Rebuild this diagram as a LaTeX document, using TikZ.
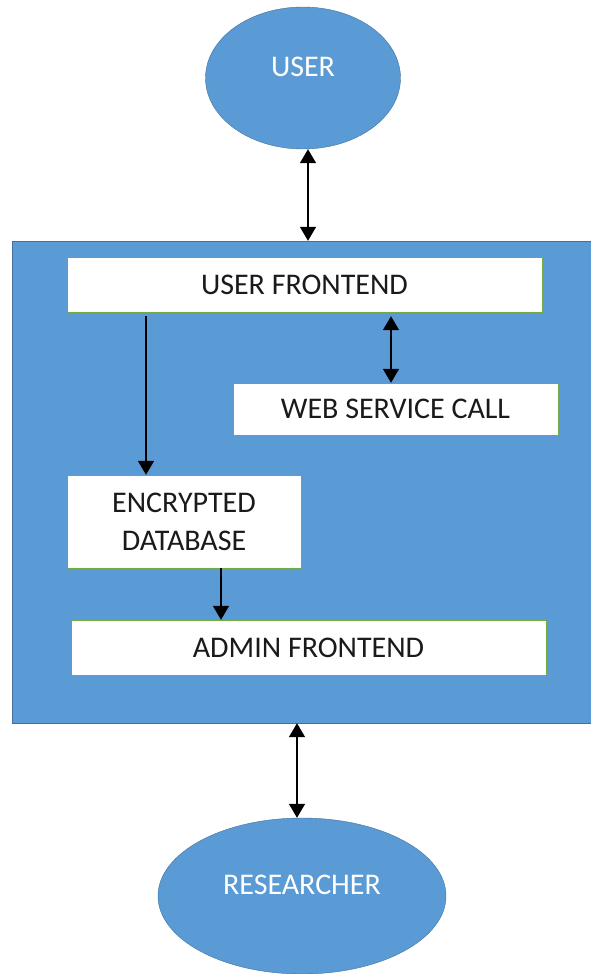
\documentclass[tikz,border=0pt]{standalone}
\usepackage{fontspec}
\setmainfont{Carlito}
\usepackage{xcolor}
\usepackage{tikz}
\usetikzlibrary{arrows.meta,calc,positioning,shapes.geometric}
\definecolor{Fill}{HTML}{5B9BD5}
\definecolor{Rim}{HTML}{41719C}
\definecolor{Edge}{HTML}{70AD47}
\definecolor{Ink}{HTML}{1A1A1A}

\begin{document}
\begin{tikzpicture}[x=1pt,y=-1pt,
  actor/.style={ellipse,draw=Rim,fill=Fill,inner sep=0pt,text=white,font=\fontsize{30}{36}\selectfont,text depth=22pt},
  panel/.style={rectangle,draw=Rim,fill=Fill,inner sep=0pt},
  module/.style={rectangle,draw=Edge,fill=white,inner sep=0pt,text=Ink,align=center,font=\fontsize{30}{38}\selectfont},
  link/.style={-{Triangle[length=14pt,width=16pt]},line width=1.6pt,color=black},
  twoway/.style={{Triangle[length=14pt,width=16pt]}-{Triangle[length=14pt,width=16pt]},line width=1.6pt,color=black}]
\useasboundingbox (0,0) rectangle (591,974);
% actors
\node[actor,minimum width=195pt,minimum height=142pt] (user) at (303,78) {USER};
\node[actor,minimum width=288pt,minimum height=156pt] (researcher) at (302,896) {RESEARCHER};
% system panel and modules
\node[panel,minimum width=580pt,minimum height=482pt] (system) at (302,482) {};
\node[module,minimum width=475pt,minimum height=55pt] (userfe) at (304.5,284.5) {USER FRONTEND};
\node[module,minimum width=325pt,minimum height=52pt] (webcall) at (395.5,409) {WEB SERVICE CALL};
\node[module,minimum width=234pt,minimum height=93pt] (encdb) at (184,521.5) {ENCRYPTED\\DATABASE};
\node[module,minimum width=475pt,minimum height=55pt] (adminfe) at (308.5,647.5) {ADMIN FRONTEND};
% connectors
\draw[twoway] ([xshift=5pt]user.south) -- ([xshift=5pt]user.south |- system.north);
\draw[twoway,shorten <=4pt] ([xshift=86.5pt]userfe.south) -- ([xshift=86.5pt]userfe.south |- webcall.north);
\draw[link,shorten <=4pt] ([xshift=-158.5pt]userfe.south) -- ([xshift=-158.5pt]userfe.south |- encdb.north);
\draw[link] ([xshift=37pt]encdb.south) -- ([xshift=37pt]encdb.south |- adminfe.north);
\draw[twoway] ([xshift=-5pt]researcher.north) -- ([xshift=-5pt]researcher.north |- system.south);
\end{tikzpicture}
\end{document}
